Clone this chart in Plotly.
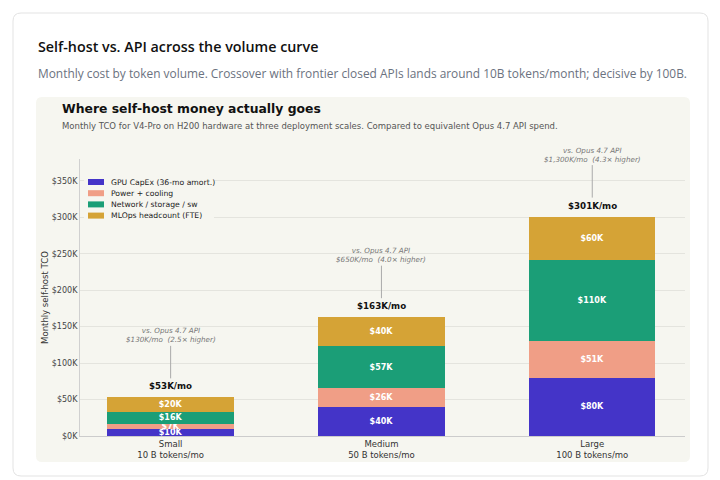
import plotly.graph_objects as go

# ---------------- data ----------------
categories = ["Small<br>10 B tokens/mo", "Medium<br>50 B tokens/mo", "Large<br>100 B tokens/mo"]
series_names = ["GPU CapEx (36-mo amort.)", "Power + cooling", "Network / storage / sw", "MLOps headcount (FTE)"]
gpu_capex = [10, 40, 80]
power_cooling = [7, 26, 51]
network_storage = [16, 57, 110]
mlops_headcount = [20, 40, 60]
totals = [53, 163, 301]
api_cost = ["$130K", "$650K", "$1,300K"]
api_ratio = ["2.5", "4.0", "4.3"]
y_ticks = [0, 50, 100, 150, 200, 250, 300, 350]

colors = ["#4434c8", "#f09e86", "#1b9e77", "#d5a336"]
series_values = [gpu_capex, power_cooling, network_storage, mlops_headcount]

# ---------------- layout geometry (pixels) ----------------
W, H = 720, 480
PL, PR, PT, PB = 80, 685, 159, 436   # plot area edges
pw, ph = PR - PL, PB - PT


def px(x):
    return (x - PL) / pw


def py(y):
    return (PB - y) / ph


def rounded_rect(x0, y0, x1, y1, r):
    rx, ry = r / pw, r / ph
    X0, X1 = px(x0), px(x1)
    Y0, Y1 = py(y0), py(y1)  # Y0 top (higher), Y1 bottom
    return (f"M{X0 + rx},{Y0} L{X1 - rx},{Y0} Q{X1},{Y0} {X1},{Y0 - ry} "
            f"L{X1},{Y1 + ry} Q{X1},{Y1} {X1 - rx},{Y1} L{X0 + rx},{Y1} "
            f"Q{X0},{Y1} {X0},{Y1 + ry} L{X0},{Y0 - ry} Q{X0},{Y0} {X0 + rx},{Y0} Z")


FONT = "DejaVu Sans"
HEAD = "Open Sans"

fig = go.Figure()
for name, vals, col in zip(series_names, series_values, colors):
    fig.add_trace(go.Bar(
        x=categories, y=vals, name=name, marker_color=col, marker_line_width=0,
        width=0.6,
        text=[f"<b>${v}K</b>" for v in vals], textposition="inside",
        insidetextanchor="middle", textangle=0,
        textfont=dict(family=FONT, size=8, color="white"),
        hoverinfo="skip", showlegend=False, cliponaxis=False,
    ))

shapes = []
# card
shapes.append(dict(type="path", path=rounded_rect(13, 13, 708, 476, 8), xref="paper", yref="paper",
                   fillcolor="white", line=dict(color="#e3e3e3", width=1), layer="below"))
# panel
shapes.append(dict(type="path", path=rounded_rect(36, 97, 690, 462, 6), xref="paper", yref="paper",
                   fillcolor="#f6f6f0", line=dict(width=0), layer="below"))
# legend box
shapes.append(dict(type="rect", xref="paper", yref="paper", x0=px(84), x1=px(214), y0=py(221), y1=py(176),
                   fillcolor="#f6f6f0", line=dict(width=0), layer="above"))

annotations = []
# header
annotations.append(dict(text="Self-host vs. API across the volume curve", xref="paper", yref="paper",
                        x=px(36), y=py(46), xanchor="left", yanchor="middle", showarrow=False,
                        font=dict(family=HEAD, size=14.3, color="#111111", weight=600)))
annotations.append(dict(text="Monthly cost by token volume. Crossover with frontier closed APIs lands around 10B tokens/month; decisive by 100B.",
                        xref="paper", yref="paper", x=px(36), y=py(73), xanchor="left", yanchor="middle",
                        showarrow=False, font=dict(family=HEAD, size=11.9, color="#6b7280")))
annotations.append(dict(text="<b>Where self-host money actually goes</b>", xref="paper", yref="paper",
                        x=px(60), y=py(108), xanchor="left", yanchor="middle", showarrow=False,
                        font=dict(family=FONT, size=12.4, color="#111111")))
annotations.append(dict(text="Monthly TCO for V4-Pro on H200 hardware at three deployment scales. Compared to equivalent Opus 4.7 API spend.",
                        xref="paper", yref="paper", x=px(60), y=py(126), xanchor="left", yanchor="middle",
                        showarrow=False, font=dict(family=FONT, size=8.5, color="#555555")))

# legend (manual)
for i, (name, col) in enumerate(zip(series_names, colors)):
    yc = 182 + i * 11.2
    shapes.append(dict(type="rect", xref="paper", yref="paper", x0=px(88), x1=px(104),
                       y0=py(yc + 3), y1=py(yc - 3), fillcolor=col, line=dict(width=0), layer="above"))
    annotations.append(dict(text=name, xref="paper", yref="paper", x=px(109), y=py(yc),
                            xanchor="left", yanchor="middle", showarrow=False,
                            font=dict(family=FONT, size=7.7, color="#222222")))

# totals and API comparisons
for cat, tot, api, ratio in zip(categories, totals, api_cost, api_ratio):
    annotations.append(dict(text=f"<b>${tot}K/mo</b>", x=cat, y=tot, xref="x", yref="y",
                            yshift=11, showarrow=False, font=dict(family=FONT, size=8.7, color="#111111")))
    annotations.append(dict(text=f"<i>vs. Opus 4.7 API<br>{api}/mo\u00a0 ({ratio}× higher)</i>",
                            x=cat, y=tot, xref="x", yref="y", showarrow=True, ax=0, ay=-62,
                            arrowhead=0, arrowwidth=1, arrowcolor="#aaaaaa", standoff=19,
                            font=dict(family=FONT, size=7.2, color="#777777")))

fig.update_layout(
    width=W, height=H, autosize=False,
    margin=dict(l=PL, r=W - PR, t=PT, b=H - PB),
    paper_bgcolor="white", plot_bgcolor="rgba(0,0,0,0)",
    barmode="stack", bargap=0.4,
    font=dict(family=FONT, size=8.5, color="#444444"),
    shapes=shapes, annotations=annotations,
    uniformtext=dict(minsize=8, mode="show"),
    showlegend=False,
)
fig.update_xaxes(range=[-0.43, 2.44], showgrid=False, showline=True, linecolor="#cccccc", linewidth=1,
                 ticks="", tickfont=dict(family=FONT, size=8.5, color="#333333"), fixedrange=True)
fig.update_yaxes(range=[0, 380], tickvals=y_ticks, ticktext=[f"${v}K" for v in y_ticks],
                 showgrid=True, gridcolor="#e4e4de", gridwidth=1, zeroline=False,
                 showline=True, linecolor="#d0d0d0", linewidth=1, ticks="",
                 tickfont=dict(family=FONT, size=8, color="#444444"),
                 title=dict(text="Monthly self-host TCO", font=dict(family=FONT, size=8.5, color="#333333"), standoff=1),
                 fixedrange=True)

fig.write_html("out.html", config={"displayModeBar": False},
               post_script="document.body.style.margin='0';document.body.style.padding='0';")
